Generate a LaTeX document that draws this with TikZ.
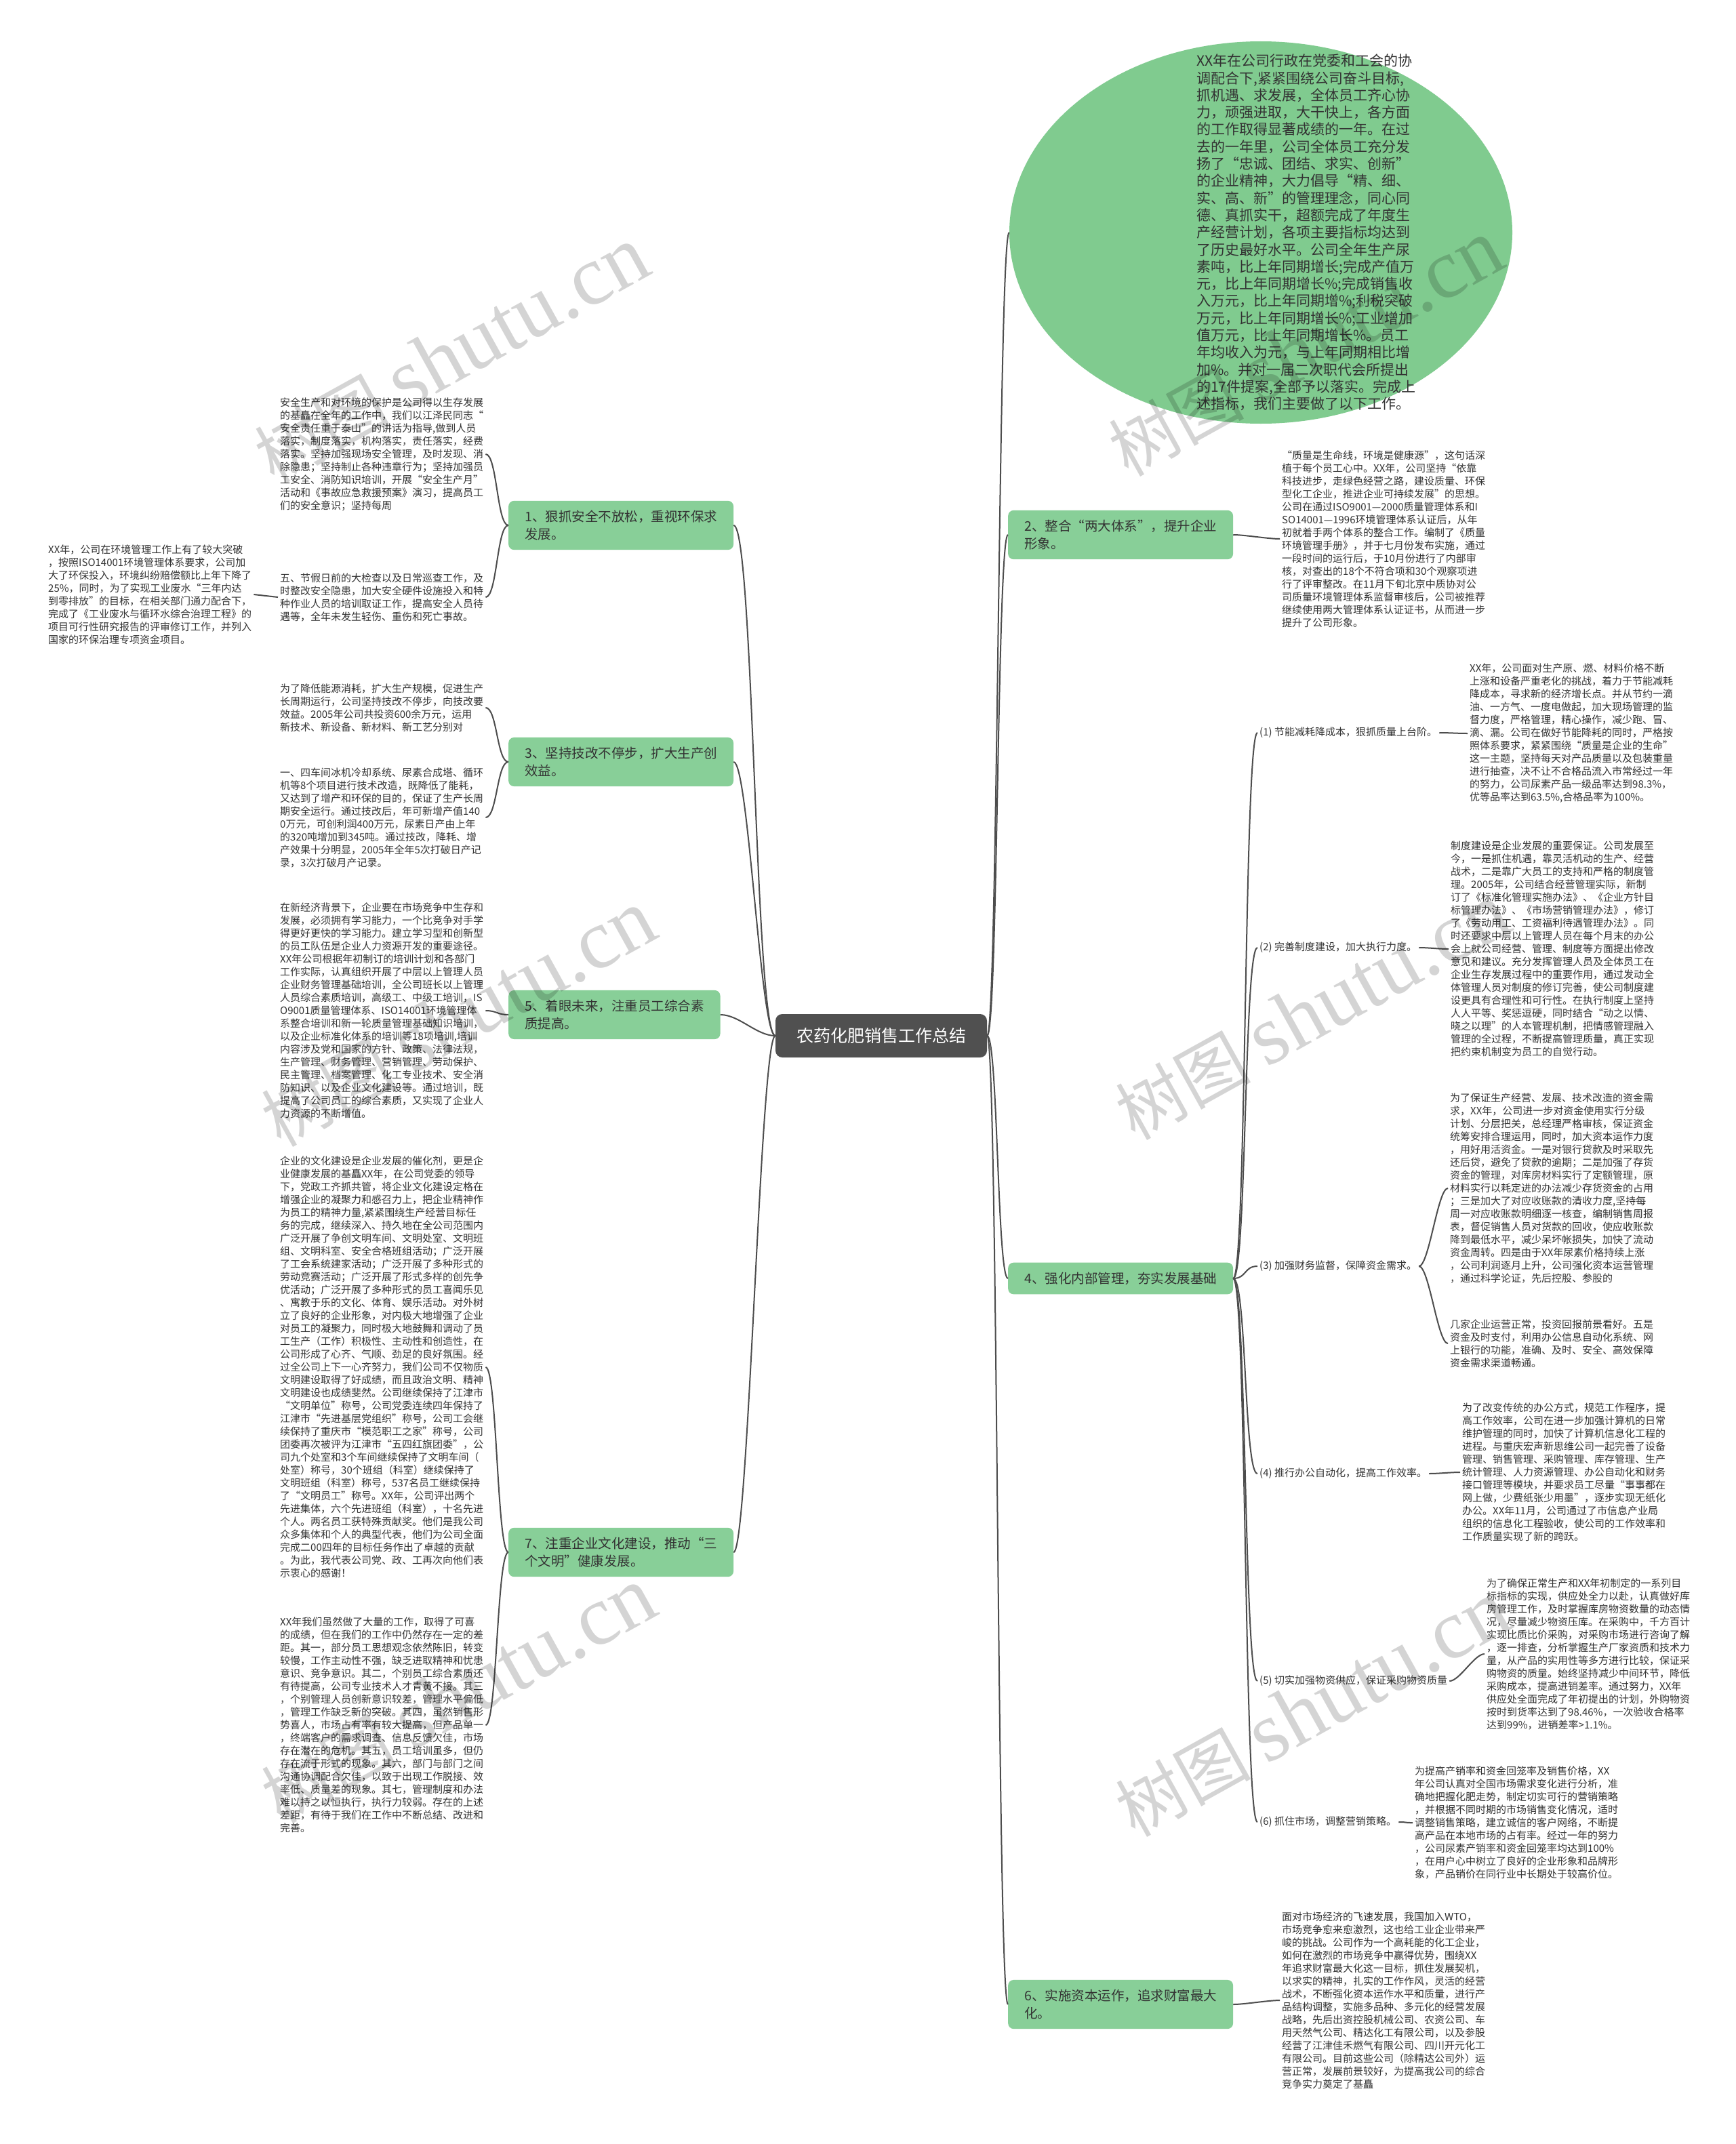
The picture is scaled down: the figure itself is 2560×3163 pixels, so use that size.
\documentclass[tikz,border=0pt]{standalone}
\usepackage{fontspec}
\setmainfont{Noto Sans CJK SC}
\newfontfamily\wmfont{Liberation Serif}
\usepackage{tikz}
\usetikzlibrary{shapes.geometric}
\definecolor{rootc}{HTML}{505050}
\definecolor{topicc}{HTML}{88CF98}
\definecolor{ovalc}{HTML}{80CB8F}
\definecolor{linkc}{HTML}{4D4D4D}
\definecolor{textc}{HTML}{333333}

\begin{document}
\begin{tikzpicture}[x=1pt, y=-1pt,
  root/.style={fill=rootc, text=white, rounded corners=10pt, minimum width=312pt,
               minimum height=64pt, font=\fontsize{25}{30}\selectfont},
  topic/.style={fill=topicc, text=textc, rounded corners=8pt, anchor=west, align=left,
                inner xsep=24pt, inner ysep=14pt, font=\fontsize{19.5}{26}\selectfont},
  subtopic/.style={anchor=west, text=textc, inner sep=3pt, font=\fontsize{15}{19}\selectfont},
  txt/.style={subtopic, align=left},
  link/.style={draw=linkc, line width=2pt},
  wm/.style={rotate=29, text=black, text opacity=0.17, font=\fontsize{100}{100}\selectfont}]
\useasboundingbox[fill=white] (0,0) rectangle (2560,3163);

\node[root] (root) at (1300,1528) {农药化肥销售工作总结};

\node[ellipse, fill=ovalc, minimum width=742pt, minimum height=564pt] (summary) at (1860,343) {};
\node[txt, font=\fontsize{21}{25.3}\selectfont] (summarytext) at (1762,343)
  {XX年在公司行政在党委和工会的协\\
   调配合下,紧紧围绕公司奋斗目标,\\
   抓机遇、求发展，全体员工齐心协\\
   力，顽强进取，大干快上，各方面\\
   的工作取得显著成绩的一年。在过\\
   去的一年里，公司全体员工充分发\\
   扬了“忠诚、团结、求实、创新”\\
   的企业精神，大力倡导“精、细、\\
   实、高、新”的管理理念，同心同\\
   德、真抓实干，超额完成了年度生\\
   产经营计划，各项主要指标均达到\\
   了历史最好水平。公司全年生产尿\\
   素吨，比上年同期增长;完成产值万\\
   元，比上年同期增长\%;完成销售收\\
   入万元，比上年同期增\%;利税突破\\
   万元，比上年同期增长\%;工业增加\\
   值万元，比上年同期增长\%。员工\\
   年均收入为元，与上年同期相比增\\
   加\%。并对一届二次职代会所提出\\
   的17件提案,全部予以落实。完成上\\
   述指标，我们主要做了以下工作。};

\node[topic] (b1) at (750,775) {1、狠抓安全不放松，重视环保求\\发展。};
\node[topic] (b3) at (750,1124) {3、坚持技改不停步，扩大生产创\\效益。};
\node[topic] (b5) at (750,1497) {5、着眼未来，注重员工综合素\\质提高。};
\node[topic] (b7) at (750,2290) {7、注重企业文化建设，推动“三\\个文明”健康发展。};
\node[topic] (b2) at (1487,789) {2、整合“两大体系”，提升企业\\形象。};
\node[topic] (b4) at (1487,1886) {4、强化内部管理，夯实发展基础};
\node[topic] (b6) at (1487,2957) {6、实施资本运作，追求财富最大\\化。};

\node[txt] (b1a) at (410,670)
  {安全生产和对环境的保护是公司得以生存发展\\
   的基矗在全年的工作中，我们以江泽民同志“\\
   安全责任重于泰山”的讲话为指导,做到人员\\
   落实，制度落实，机构落实，责任落实，经费\\
   落实。坚持加强现场安全管理，及时发现、消\\
   除隐患；坚持制止各种违章行为；坚持加强员\\
   工安全、消防知识培训，开展“安全生产月”\\
   活动和《事故应急救援预案》演习，提高员工\\
   们的安全意识；坚持每周};
\node[txt] (b1b) at (410,881)
  {五、节假日前的大检查以及日常巡查工作，及\\
   时整改安全隐患，加大安全硬件设施投入和特\\
   种作业人员的培训取证工作，提高安全人员待\\
   遇等，全年未发生轻伤、重伤和死亡事故。};
\node[txt] (envtext) at (68,877)
  {XX年，公司在环境管理工作上有了较大突破\\
   ，按照ISO14001环境管理体系要求，公司加\\
   大了环保投入，环境纠纷赔偿额比上年下降了\\
   25\%，同时，为了实现工业废水“三年内达\\
   到零排放”的目标，在相关部门通力配合下，\\
   完成了《工业废水与循环水综合治理工程》的\\
   项目可行性研究报告的评审修订工作，并列入\\
   国家的环保治理专项资金项目。};
\node[txt] (b3a) at (410,1044)
  {为了降低能源消耗，扩大生产规模，促进生产\\
   长周期运行，公司坚持技改不停步，向技改要\\
   效益。2005年公司共投资600余万元，运用\\
   新技术、新设备、新材料、新工艺分别对};
\node[txt] (b3b) at (410,1206)
  {一、四车间冰机冷却系统、尿素合成塔、循环\\
   机等8个项目进行技术改造，既降低了能耗，\\
   又达到了增产和环保的目的，保证了生产长周\\
   期安全运行。通过技改后，年可新增产值140\\
   0万元，可创利润400万元，尿素日产由上年\\
   的320吨增加到345吨。通过技改，降耗、增\\
   产效果十分明显，2005年全年5次打破日产记\\
   录，3次打破月产记录。};
\node[txt] (b5t) at (410,1491)
  {在新经济背景下，企业要在市场竞争中生存和\\
   发展，必须拥有学习能力，一个比竞争对手学\\
   得更好更快的学习能力。建立学习型和创新型\\
   的员工队伍是企业人力资源开发的重要途径。\\
   XX年公司根据年初制订的培训计划和各部门\\
   工作实际，认真组织开展了中层以上管理人员\\
   企业财务管理基础培训，全公司班长以上管理\\
   人员综合素质培训，高级工、中级工培训，IS\\
   O9001质量管理体系、ISO14001环境管理体\\
   系整合培训和新一轮质量管理基础知识培训，\\
   以及企业标准化体系的培训等18项培训,培训\\
   内容涉及党和国家的方针、政策、法律法规，\\
   生产管理、财务管理、营销管理、劳动保护、\\
   民主管理、档案管理、化工专业技术、安全消\\
   防知识、以及企业文化建设等。通过培训，既\\
   提高了公司员工的综合素质，又实现了企业人\\
   力资源的不断增值。};
\node[txt] (b7a) at (410,2017)
  {企业的文化建设是企业发展的催化剂，更是企\\
   业健康发展的基矗XX年，在公司党委的领导\\
   下，党政工齐抓共管，将企业文化建设定格在\\
   增强企业的凝聚力和感召力上，把企业精神作\\
   为员工的精神力量,紧紧围绕生产经营目标任\\
   务的完成，继续深入、持久地在全公司范围内\\
   广泛开展了争创文明车间、文明处室、文明班\\
   组、文明科室、安全合格班组活动；广泛开展\\
   了工会系统建家活动；广泛开展了多种形式的\\
   劳动竞赛活动；广泛开展了形式多样的创先争\\
   优活动；广泛开展了多种形式的员工喜闻乐见\\
   、寓教于乐的文化、体育、娱乐活动。对外树\\
   立了良好的企业形象，对内极大地增强了企业\\
   对员工的凝聚力，同时极大地鼓舞和调动了员\\
   工生产（工作）积极性、主动性和创造性，在\\
   公司形成了心齐、气顺、劲足的良好氛围。经\\
   过全公司上下一心齐努力，我们公司不仅物质\\
   文明建设取得了好成绩，而且政治文明、精神\\
   文明建设也成绩斐然。公司继续保持了江津市\\
   “文明单位”称号，公司党委连续四年保持了\\
   江津市“先进基层党组织”称号，公司工会继\\
   续保持了重庆市“模范职工之家”称号，公司\\
   团委再次被评为江津市“五四红旗团委”，公\\
   司九个处室和3个车间继续保持了文明车间（\\
   处室）称号，30个班组（科室）继续保持了\\
   文明班组（科室）称号，537名员工继续保持\\
   了“文明员工”称号。XX年，公司评出两个\\
   先进集体，六个先进班组（科室），十名先进\\
   个人。两名员工获特殊贡献奖。他们是我公司\\
   众多集体和个人的典型代表，他们为公司全面\\
   完成二00四年的目标任务作出了卓越的贡献\\
   。为此，我代表公司党、政、工再次向他们表\\
   示衷心的感谢！};
\node[txt] (b7b) at (410,2545)
  {XX年我们虽然做了大量的工作，取得了可喜\\
   的成绩，但在我们的工作中仍然存在一定的差\\
   距。其一，部分员工思想观念依然陈旧，转变\\
   较慢，工作主动性不强，缺乏进取精神和忧患\\
   意识、竞争意识。其二，个别员工综合素质还\\
   有待提高，公司专业技术人才青黄不接。其三\\
   ，个别管理人员创新意识较差，管理水平偏低\\
   ，管理工作缺乏新的突破。其四，虽然销售形\\
   势喜人，市场占有率有较大提高，但产品单一\\
   ，终端客户的需求调查、信息反馈欠佳，市场\\
   存在潜在的危机。其五，员工培训虽多，但仍\\
   存在流于形式的现象。其六，部门与部门之间\\
   沟通协调配合欠佳，以致于出现工作脱接、效\\
   率低、质量差的现象。其七，管理制度和办法\\
   难以持之以恒执行，执行力较弱。存在的上述\\
   差距，有待于我们在工作中不断总结、改进和\\
   完善。};

\node[txt] (b2t) at (1888,795)
  {“质量是生命线，环境是健康源”，这句话深\\
   植于每个员工心中。XX年，公司坚持“依靠\\
   科技进步，走绿色经营之路，建设质量、环保\\
   型化工企业，推进企业可持续发展”的思想。\\
   公司在通过ISO9001—2000质量管理体系和I\\
   SO14001—1996环境管理体系认证后，从年\\
   初就着手两个体系的整合工作。编制了《质量\\
   环境管理手册》，并于七月份发布实施，通过\\
   一段时间的运行后，于10月份进行了内部审\\
   核，对查出的18个不符合项和30个观察项进\\
   行了评审整改。在11月下旬北京中质协对公\\
   司质量环境管理体系监督审核后，公司被推荐\\
   继续使用两大管理体系认证证书，从而进一步\\
   提升了公司形象。};

\node[subtopic] (s1) at (1855,1081) {(1) 节能减耗降成本，狠抓质量上台阶。};
\node[subtopic] (s2) at (1855,1398) {(2) 完善制度建设，加大执行力度。};
\node[subtopic] (s3) at (1855,1868) {(3) 加强财务监督，保障资金需求。};
\node[subtopic] (s4) at (1855,2174) {(4) 推行办公自动化，提高工作效率。};
\node[subtopic] (s5) at (1855,2480) {(5) 切实加强物资供应，保证采购物资质量};
\node[subtopic] (s6) at (1855,2688) {(6) 抓住市场，调整营销策略。};

\node[txt] (t1) at (2165,1082)
  {XX年，公司面对生产原、燃、材料价格不断\\
   上涨和设备严重老化的挑战，着力于节能减耗\\
   降成本，寻求新的经济增长点。并从节约一滴\\
   油、一方气、一度电做起，加大现场管理的监\\
   督力度，严格管理，精心操作，减少跑、冒、\\
   滴、漏。公司在做好节能降耗的同时，严格按\\
   照体系要求，紧紧围绕“质量是企业的生命”\\
   这一主题，坚持每天对产品质量以及包装重量\\
   进行抽查，决不让不合格品流入市常经过一年\\
   的努力，公司尿素产品一级品率达到98.3\%，\\
   优等品率达到63.5\%,合格品率为100\%。};
\node[txt] (t2) at (2137,1400)
  {制度建设是企业发展的重要保证。公司发展至\\
   今，一是抓住机遇，靠灵活机动的生产、经营\\
   战术，二是靠广大员工的支持和严格的制度管\\
   理。2005年，公司结合经营管理实际，新制\\
   订了《标准化管理实施办法》、《企业方针目\\
   标管理办法》、《市场营销管理办法》，修订\\
   了《劳动用工、工资福利待遇管理办法》。同\\
   时还要求中层以上管理人员在每个月末的办公\\
   会上就公司经营、管理、制度等方面提出修改\\
   意见和建议。充分发挥管理人员及全体员工在\\
   企业生存发展过程中的重要作用，通过发动全\\
   体管理人员对制度的修订完善，使公司制度建\\
   设更具有合理性和可行性。在执行制度上坚持\\
   人人平等、奖惩逗硬，同时结合“动之以情、\\
   晓之以理”的人本管理机制，把情感管理融入\\
   管理的全过程，不断提高管理质量，真正实现\\
   把约束机制变为员工的自觉行动。};
\node[txt] (t3a) at (2136,1753)
  {为了保证生产经营、发展、技术改造的资金需\\
   求，XX年，公司进一步对资金使用实行分级\\
   计划、分层把关，总经理严格审核，保证资金\\
   统筹安排合理运用，同时，加大资本运作力度\\
   ，用好用活资金。一是对银行贷款及时采取先\\
   还后贷，避免了贷款的逾期；二是加强了存货\\
   资金的管理，对库房材料实行了定额管理，原\\
   材料实行以耗定进的办法减少存货资金的占用\\
   ；三是加大了对应收账款的清收力度,坚持每\\
   周一对应收账款明细逐一核查，编制销售周报\\
   表，督促销售人员对货款的回收，使应收账款\\
   降到最低水平，减少呆坏帐损失，加快了流动\\
   资金周转。四是由于XX年尿素价格持续上涨\\
   ，公司利润逐月上升，公司强化资本运营管理\\
   ，通过科学论证，先后控股、参股的};
\node[txt] (t3b) at (2136,1982)
  {几家企业运营正常，投资回报前景看好。五是\\
   资金及时支付，利用办公信息自动化系统、网\\
   上银行的功能，准确、及时、安全、高效保障\\
   资金需求渠道畅通。};
\node[txt] (t4) at (2154,2172)
  {为了改变传统的办公方式，规范工作程序，提\\
   高工作效率，公司在进一步加强计算机的日常\\
   维护管理的同时，加快了计算机信息化工程的\\
   进程。与重庆宏声新思维公司一起完善了设备\\
   管理、销售管理、采购管理、库存管理、生产\\
   统计管理、人力资源管理、办公自动化和财务\\
   接口管理等模块，并要求员工尽量“事事都在\\
   网上做，少费纸张少用墨”，逐步实现无纸化\\
   办公。XX年11月，公司通过了市信息产业局\\
   组织的信息化工程验收，使公司的工作效率和\\
   工作质量实现了新的跨跃。};
\node[txt] (t5) at (2190,2440)
  {为了确保正常生产和XX年初制定的一系列目\\
   标指标的实现，供应处全力以赴，认真做好库\\
   房管理工作，及时掌握库房物资数量的动态情\\
   况，尽量减少物资压库。在采购中，千方百计\\
   实现比质比价采购，对采购市场进行咨询了解\\
   ，逐一排查，分析掌握生产厂家资质和技术力\\
   量，从产品的实用性等多方进行比较，保证采\\
   购物资的质量。始终坚持减少中间环节，降低\\
   采购成本，提高进销差率。通过努力，XX年\\
   供应处全面完成了年初提出的计划，外购物资\\
   按时到货率达到了98.46\%，一次验收合格率\\
   达到99\%，进销差率>1.1\%。};
\node[txt] (t6) at (2084,2689)
  {为提高产销率和资金回笼率及销售价格，XX\\
   年公司认真对全国市场需求变化进行分析，准\\
   确地把握化肥走势，制定切实可行的营销策略\\
   ，并根据不同时期的市场销售变化情况，适时\\
   调整销售策略，建立诚信的客户网络，不断提\\
   高产品在本地市场的占有率。经过一年的努力\\
   ，公司尿素产销率和资金回笼率均达到100\%\\
   ，在用户心中树立了良好的企业形象和品牌形\\
   象，产品销价在同行业中长期处于较高价位。};
\node[txt] (b6t) at (1888,2951)
  {面对市场经济的飞速发展，我国加入WTO，\\
   市场竞争愈来愈激烈，这也给工业企业带来严\\
   峻的挑战。公司作为一个高耗能的化工企业，\\
   如何在激烈的市场竞争中赢得优势，围绕XX\\
   年追求财富最大化这一目标，抓住发展契机，\\
   以求实的精神，扎实的工作作风，灵活的经营\\
   战术，不断强化资本运作水平和质量，进行产\\
   品结构调整，实施多品种、多元化的经营发展\\
   战略，先后出资控股机械公司、农资公司、车\\
   用天然气公司、精达化工有限公司，以及参股\\
   经营了江津佳禾燃气有限公司、四川开元化工\\
   有限公司。目前这些公司（除精达公司外）运\\
   营正常，发展前景较好，为提高我公司的综合\\
   竞争实力奠定了基矗};

\draw[link] (root.west) .. controls +(-30,0) and +(30,0) .. (b1.east);
\draw[link] (root.west) .. controls +(-22,0) and +(22,0) .. (b3.east);
\draw[link] (root.west) .. controls +(-28,0) and +(28,0) .. (b5.east);
\draw[link] (root.west) .. controls +(-22,0) and +(22,0) .. (b7.east);
\draw[link] (root.east) .. controls +(16,0) and +(-16,0) .. (summary.west);
\draw[link] (root.east) .. controls +(16,0) and +(-16,0) .. (b2.west);
\draw[link] (root.east) .. controls +(16,0) and +(-16,0) .. (b4.west);
\draw[link] (root.east) .. controls +(16,0) and +(-16,0) .. (b6.west);

\draw[link] (b1.west) .. controls +(-17,0) and +(17,0) .. (b1a.east);
\draw[link] (b1.west) .. controls +(-17,0) and +(17,0) .. (b1b.east);
\draw[link] (b1b.west) -- (envtext.east);
\draw[link] (b3.west) .. controls +(-17,0) and +(17,0) .. (b3a.east);
\draw[link] (b3.west) .. controls +(-17,0) and +(17,0) .. (b3b.east);
\draw[link] (b5.west) .. controls +(-17,0) and +(17,0) .. (b5t.east);
\draw[link] (b7.west) .. controls +(-17,0) and +(17,0) .. (b7a.east);
\draw[link] (b7.west) .. controls +(-17,0) and +(17,0) .. (b7b.east);
\draw[link] (b2.east) .. controls +(17,0) and +(-17,0) .. (b2t.west);

\draw[link] (b4.east) .. controls +(20,0) and +(-20,0) .. (s1.west);
\draw[link] (b4.east) .. controls +(20,0) and +(-20,0) .. (s2.west);
\draw[link] (b4.east) .. controls +(20,0) and +(-20,0) .. (s3.west);
\draw[link] (b4.east) .. controls +(20,0) and +(-20,0) .. (s4.west);
\draw[link] (b4.east) .. controls +(20,0) and +(-20,0) .. (s5.west);
\draw[link] (b4.east) .. controls +(20,0) and +(-20,0) .. (s6.west);
\draw[link] (s1.east) .. controls +(15,0) and +(-15,0) .. (t1.west);
\draw[link] (s2.east) .. controls +(15,0) and +(-15,0) .. (t2.west);
\draw[link] (s3.east) .. controls +(15,0) and +(-15,0) .. (t3a.west);
\draw[link] (s3.east) .. controls +(15,0) and +(-15,0) .. (t3b.west);
\draw[link] (s4.east) .. controls +(15,0) and +(-15,0) .. (t4.west);
\draw[link] (s5.east) .. controls +(15,0) and +(-15,0) .. (t5.west);
\draw[link] (s6.east) .. controls +(15,0) and +(-15,0) .. (t6.west);
\draw[link] (b6.east) .. controls +(17,0) and +(-17,0) .. (b6t.west);

\foreach \x/\y [count=\i] in {666/524, 676/1503, 676/2501, 1926/514, 1936/1493, 1936/2521}
  \node[wm] (wm\i) at (\x,\y) {树图 {\wmfont\fontsize{125}{125}\selectfont shutu.cn}};
\end{tikzpicture}
\end{document}
